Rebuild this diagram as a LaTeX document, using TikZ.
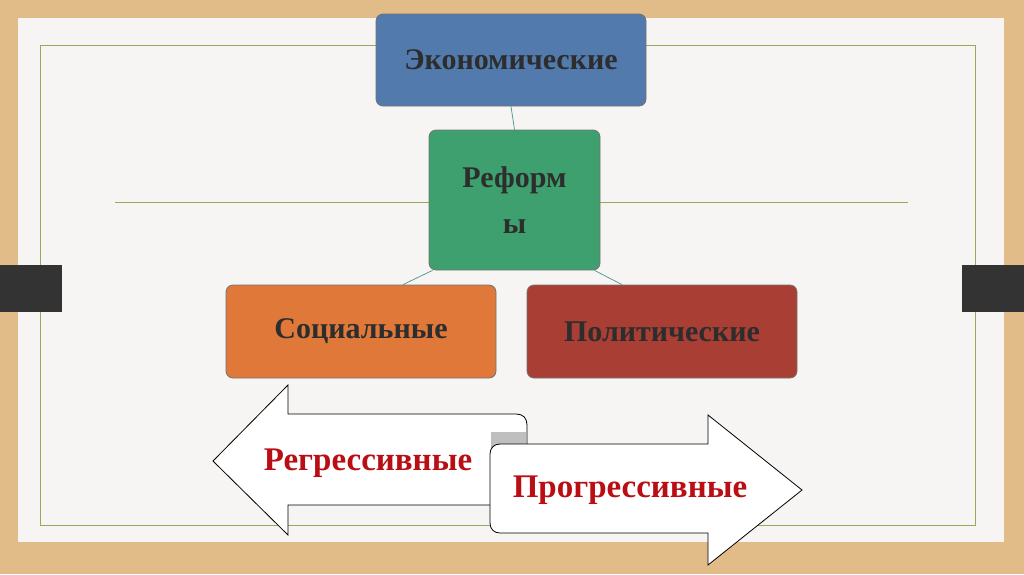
\documentclass[tikz,border=0pt]{standalone}
\usepackage{fontspec}
\setmainfont{Liberation Serif}
\definecolor{wood}{RGB}{226,188,136}
\definecolor{card}{RGB}{246,245,243}
\definecolor{frame}{RGB}{150,170,90}
\definecolor{cblue}{RGB}{82,122,172}
\definecolor{cgreen}{RGB}{62,160,110}
\definecolor{corange}{RGB}{224,120,58}
\definecolor{cred}{RGB}{168,62,52}
\definecolor{ctext}{RGB}{45,45,45}
\definecolor{dred}{RGB}{185,15,20}
\definecolor{conn}{RGB}{70,150,140}
\begin{document}
\begin{tikzpicture}[x=1pt,y=-1pt,
  box/.style={draw=black!55,rounded corners=7pt,line width=0.8pt,text=ctext,font=\bfseries\fontsize{30}{36}\selectfont,align=center},
  lnk/.style={conn,line width=0.7pt},
  arr/.style={draw=black,line width=0.8pt,fill=white,line join=miter},
  atext/.style={text=dred,font=\bfseries\fontsize{33}{38}\selectfont}]
\useasboundingbox (0,0) rectangle (1024,574);
\fill[wood] (0,0) rectangle (1024,574);
\fill[card] (18,18) rectangle (1004,542);
\draw[frame,line width=0.8pt] (40,45) rectangle (975,525);
\draw[frame,line width=0.8pt] (115,202) -- (908,202);
\fill[black!80] (0,265) rectangle (62,312);
\fill[black!80] (962,265) rectangle (1024,312);
\node[box,fill=cblue,minimum width=270pt,minimum height=92pt] (eco) at (511,60) {Экономические};
\node[box,fill=cgreen,minimum width=171pt,minimum height=140pt] (ref) at (514.5,200) {Реформ\\[10pt]ы};
\node[box,fill=corange,minimum width=270pt,minimum height=93pt] (soc) at (361,331.5) {Социальные};
\node[box,fill=cred,minimum width=270pt,minimum height=93pt] (pol) at (662,331.5) {Политические};
\draw[lnk] (eco.south) -- (ref.north);
\draw[lnk] ([xshift=-82pt]ref.south) -- ([xshift=42pt]soc.north);
\draw[lnk] ([xshift=80pt]ref.south) -- ([xshift=-40pt]pol.north);
\draw[arr] (213,461) -- (288,385) -- (288,414) -- (516,414) .. controls (523,414) and (527,418) .. (527,425) -- (527,505) -- (288,505) -- (288,535) -- cycle;
\fill[black!25] (491,432) rectangle (526,470);
\draw[arr] (500,444) -- (708,444) -- (708,415) -- (802,490) -- (708,565) -- (708,533) -- (500,533) .. controls (494,533) and (490,529) .. (490,523) -- (490,454) .. controls (490,448) and (494,444) .. (500,444);
\node[atext] (rg) at (368,463) {Регрессивные};
\node[atext] (pg) at (630,490) {Прогрессивные};
\end{tikzpicture}
\end{document}
